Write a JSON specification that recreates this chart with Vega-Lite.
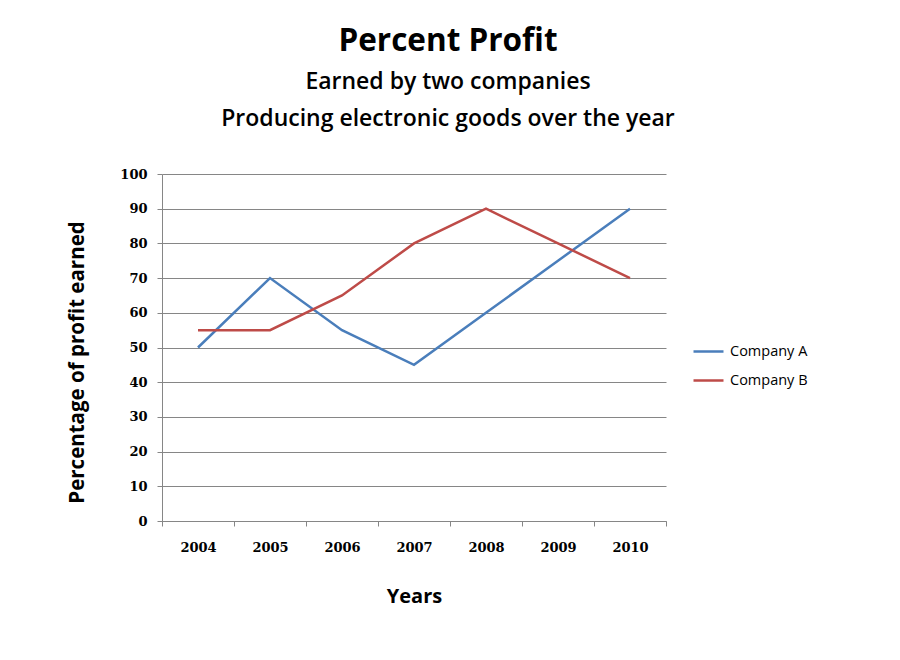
{
  "$schema": "https://vega.github.io/schema/vega-lite/v6.json",
  "width": 504,
  "height": 347,
  "autosize": {"type": "none"},
  "padding": {"left": 162, "top": 174, "right": 234, "bottom": 139},
  "background": "white",
  "title": {
    "text": "Percent Profit",
    "subtitle": ["Earned by two companies", "Producing electronic goods over the year"],
    "anchor": "middle",
    "dx": 34,
    "offset": 37,
    "font": "Open Sans",
    "fontSize": 31.5,
    "fontWeight": "bold",
    "color": "black",
    "subtitleFont": "Open Sans",
    "subtitleFontSize": 23,
    "subtitleFontWeight": 600,
    "subtitleColor": "black",
    "subtitleLineHeight": 37,
    "subtitlePadding": 14
  },
  "data": {
    "values": [
      {"year": "2004", "company": "Company A", "profit": 50},
      {"year": "2005", "company": "Company A", "profit": 70},
      {"year": "2006", "company": "Company A", "profit": 55},
      {"year": "2007", "company": "Company A", "profit": 45},
      {"year": "2008", "company": "Company A", "profit": 60},
      {"year": "2009", "company": "Company A", "profit": 75},
      {"year": "2010", "company": "Company A", "profit": 90},
      {"year": "2004", "company": "Company B", "profit": 55},
      {"year": "2005", "company": "Company B", "profit": 55},
      {"year": "2006", "company": "Company B", "profit": 65},
      {"year": "2007", "company": "Company B", "profit": 80},
      {"year": "2008", "company": "Company B", "profit": 90},
      {"year": "2009", "company": "Company B", "profit": 80},
      {"year": "2010", "company": "Company B", "profit": 70}
    ]
  },
  "mark": {"type": "line", "strokeWidth": 2.5},
  "encoding": {
    "x": {
      "field": "year",
      "type": "ordinal",
      "bandPosition": 0.5,
      "scale": {"type": "band", "paddingInner": 0, "paddingOuter": 0},
      "axis": {
        "title": "Years",
        "titleFont": "Open Sans",
        "titleFontSize": 20,
        "titleFontWeight": "bold",
        "titleColor": "black",
        "titlePadding": 32,
        "labelAngle": 0,
        "labelFont": "DejaVu Serif",
        "labelFontSize": 13,
        "labelFontWeight": "bold",
        "labelColor": "black",
        "labelPadding": 15,
        "tickBand": "extent",
        "tickSize": 5,
        "tickColor": "#868686",
        "domainColor": "#868686",
        "grid": false
      }
    },
    "y": {
      "field": "profit",
      "type": "quantitative",
      "scale": {"domain": [0, 100]},
      "axis": {
        "title": "Percentage of profit earned",
        "titleFont": "Open Sans",
        "titleFontSize": 20.5,
        "titleFontWeight": "bold",
        "titleColor": "black",
        "titleY": 188,
        "titleX": -75,
        "values": [0, 10, 20, 30, 40, 50, 60, 70, 80, 90, 100],
        "labelFont": "DejaVu Serif",
        "labelFontSize": 13,
        "labelFontWeight": "bold",
        "labelColor": "black",
        "labelPadding": 10,
        "tickSize": 5,
        "tickColor": "#868686",
        "domainColor": "#868686",
        "gridColor": "#868686",
        "gridOpacity": 1
      }
    },
    "color": {
      "field": "company",
      "type": "nominal",
      "scale": {"domain": ["Company A", "Company B"], "range": ["#4A7EBB", "#BE4B48"]},
      "legend": {
        "title": null,
        "orient": "none",
        "legendX": 530,
        "legendY": 161,
        "symbolType": "stroke",
        "symbolSize": 900,
        "symbolStrokeWidth": 2.5,
        "labelFont": "Open Sans",
        "labelFontSize": 14.5,
        "labelColor": "black",
        "labelOffset": 5,
        "rowPadding": 6
      }
    }
  },
  "config": {"view": {"stroke": null}}
}
